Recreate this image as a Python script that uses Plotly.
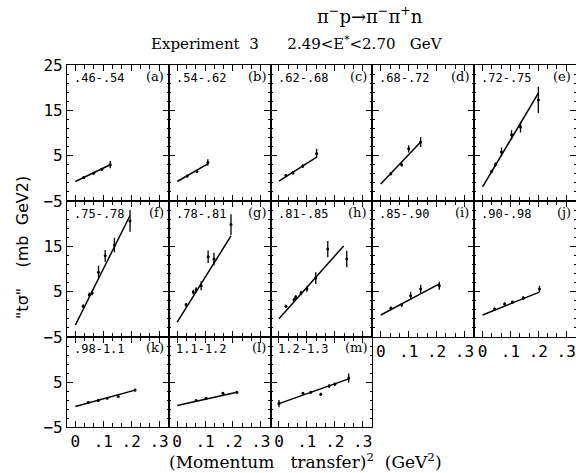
import plotly.graph_objects as go
from plotly.subplots import make_subplots

# ---------------- data ----------------
ranges = [".46-.54", ".54-.62", ".62-.68", ".68-.72", ".72-.75",
          ".75-.78", ".78-.81", ".81-.85", ".85-.90", ".90-.98",
          ".98-1.1", "1.1-1.2", "1.2-1.3"]
tags = ["(a)", "(b)", "(c)", "(d)", "(e)", "(f)", "(g)", "(h)", "(i)", "(j)",
        "(k)", "(l)", "(m)"]

pts_x = [
    [0.03, 0.065, 0.095, 0.125],
    [0.036, 0.071, 0.11],
    [0.025, 0.05, 0.085, 0.135],
    [0.036, 0.075, 0.10, 0.143],
    [0.032, 0.046, 0.068, 0.104, 0.136, 0.20],
    [0.028, 0.05, 0.06, 0.083, 0.107, 0.14, 0.196],
    [0.032, 0.058, 0.068, 0.086, 0.111, 0.132, 0.193],
    [0.025, 0.054, 0.06, 0.079, 0.10, 0.132, 0.175, 0.243],
    [0.036, 0.075, 0.107, 0.143, 0.21],
    [0.043, 0.079, 0.107, 0.146, 0.204],
    [0.046, 0.082, 0.114, 0.154, 0.214],
    [0.068, 0.104, 0.164, 0.214],
    [0.0, 0.086, 0.114, 0.15, 0.18, 0.20, 0.25],
]
pts_y = [
    [0.2, 1.1, 2.0, 3.0],
    [0.5, 1.5, 3.5],
    [0.6, 1.2, 2.7, 5.5],
    [1.0, 3.0, 6.5, 8.0],
    [1.5, 3.0, 5.8, 9.6, 11.3, 17.3],
    [1.8, 4.3, 4.7, 9.3, 12.9, 15.3, 20.6],
    [2.1, 4.9, 5.4, 6.3, 12.7, 12.2, 19.8],
    [1.8, 3.2, 3.8, 4.7, 5.6, 8.0, 14.4, 12.2],
    [1.4, 2.1, 4.1, 5.6, 6.3],
    [1.2, 2.3, 2.7, 3.6, 5.6],
    [0.45, 0.9, 1.4, 1.8, 3.2],
    [0.9, 1.4, 2.5, 2.7],
    [0.2, 2.5, 2.7, 2.3, 4.1, 4.5, 5.9],
]
pts_err = [
    [0.3, 0.3, 0.3, 0.8],
    [0.3, 0.3, 0.7],
    [0.3, 0.3, 0.4, 1.0],
    [0.3, 0.4, 0.8, 1.1],
    [0.4, 0.5, 1.0, 1.0, 1.2, 2.9],
    [0.4, 0.5, 0.5, 1.4, 1.3, 1.6, 2.4],
    [0.4, 0.5, 0.6, 1.0, 1.4, 1.4, 2.3],
    [0.3, 0.4, 0.4, 0.5, 0.6, 1.3, 1.8, 1.8],
    [0.3, 0.4, 0.8, 0.9, 0.9],
    [0.3, 0.3, 0.3, 0.4, 0.7],
    [0.2, 0.2, 0.2, 0.2, 0.3],
    [0.2, 0.2, 0.2, 0.3],
    [0.8, 0.3, 0.3, 0.3, 0.4, 0.4, 1.0],
]
fit_x = [[0, 0.125], [0, 0.11], [0, 0.135], [0, 0.143], [0, 0.20],
         [0, 0.196], [0, 0.193], [0, 0.232], [0, 0.21], [0, 0.204],
         [0, 0.214], [0, 0.214], [0, 0.25]]
fit_y = [[-0.7, 3.0], [-0.7, 3.2], [-0.6, 4.7], [-1.25, 8.0], [-1.9, 18.8],
         [-2.35, 21.8], [-1.7, 17.3], [-1.0, 15.1], [-0.14, 6.7], [-0.14, 4.9],
         [-0.45, 3.2], [-0.2, 2.7], [0.2, 5.7]]

x_tickvals = [0, 0.1, 0.2, 0.3]
x_ticktext = ["0", ".1", ".2", ".3"]
y_ticks_rows = [[-5, 5, 15, 25], [-5, 5, 15], [-5, 5]]
y_range_rows = [[-5, 25], [-5, 25], [-5, 15]]

# ---------------- figure ----------------
fig = make_subplots(rows=3, cols=5, horizontal_spacing=0, vertical_spacing=0,
                    row_heights=[136, 136, 90])

tick_font = dict(family="DejaVu Sans Mono", size=16, color="black")

for i in range(13):
    r, c = i // 5 + 1, i % 5 + 1
    fig.add_trace(go.Scatter(x=fit_x[i], y=fit_y[i], mode="lines",
                             line=dict(color="black", width=1.5),
                             showlegend=False, hoverinfo="skip"), row=r, col=c)
    fig.add_trace(go.Scatter(x=pts_x[i], y=pts_y[i], mode="markers",
                             marker=dict(color="black", size=3),
                             error_y=dict(type="data", array=pts_err[i],
                                          color="black", thickness=1.3, width=0),
                             showlegend=False), row=r, col=c)
    fig.add_annotation(text=ranges[i], x=0.05, y=0.97, xanchor="left", yanchor="top",
                       xref=f"x{i+1 if i else ''} domain", yref=f"y{i+1 if i else ''} domain",
                       showarrow=False,
                       font=dict(family="DejaVu Sans Mono", size=12, color="black"))
    fig.add_annotation(text=tags[i], x=0.97, y=0.985, xanchor="right", yanchor="top",
                       xref=f"x{i+1 if i else ''} domain", yref=f"y{i+1 if i else ''} domain",
                       showarrow=False,
                       font=dict(family="DejaVu Serif", size=13, color="black"))

for r in range(1, 4):
    for c in range(1, 6):
        idx = (r - 1) * 5 + c - 1
        if idx >= 13:
            fig.update_xaxes(visible=False, row=r, col=c)
            fig.update_yaxes(visible=False, row=r, col=c)
            continue
        show_x = (r == 3) or (r == 2 and c >= 4)
        fig.update_xaxes(range=[-0.03, 0.335], tickmode="array",
                         tickvals=x_tickvals, ticktext=x_ticktext,
                         showticklabels=show_x, ticks="inside", ticklen=6,
                         tickwidth=1.2, tickcolor="black",
                         minor=dict(tickmode="linear", tick0=0, dtick=0.1 / 3,
                                    ticks="inside", ticklen=4, tickwidth=1,
                                    tickcolor="black", showgrid=False),
                         showline=True, linecolor="black", linewidth=1.3,
                         mirror="ticks", showgrid=False, zeroline=False,
                         tickfont=tick_font, row=r, col=c)
        fig.update_yaxes(range=y_range_rows[r - 1], tickmode="array",
                         tickvals=y_ticks_rows[r - 1],
                         showticklabels=(c == 1), ticks="inside", ticklen=6,
                         tickwidth=1.2, tickcolor="black",
                         minor=dict(tickmode="linear", tick0=-5, dtick=2,
                                    ticks="inside", ticklen=2, tickwidth=1,
                                    tickcolor="black", showgrid=False),
                         showline=True, linecolor="black", linewidth=1.3,
                         mirror="ticks", showgrid=False, zeroline=False,
                         tickfont=tick_font, row=r, col=c)

fig.add_annotation(text="π<sup>−</sup>p→π<sup>−</sup>π<sup>+</sup>n",
                   xref="paper", yref="paper", x=(370 - 67) / 509, y=(427 - 15) / 362,
                   xanchor="center", yanchor="middle", showarrow=False,
                   font=dict(family="DejaVu Serif", size=18, color="black"))
fig.add_annotation(text="Experiment  3      2.49&lt;E<sup>*</sup>&lt;2.70   GeV",
                   xref="paper", yref="paper", x=(297 - 67) / 509, y=(427 - 43) / 362,
                   xanchor="center", yanchor="middle", showarrow=False,
                   font=dict(family="DejaVu Serif", size=15, color="black"))
fig.add_annotation(text="(Momentum   transfer)<sup>2</sup>  (GeV<sup>2</sup>)",
                   xref="paper", yref="paper", x=(305 - 67) / 509, y=(427 - 461) / 362,
                   xanchor="center", yanchor="middle", showarrow=False,
                   font=dict(family="DejaVu Serif", size=17, color="black"))
fig.add_annotation(text="\"tσ\"    (mb  GeV2)",
                   xref="paper", yref="paper", x=(22 - 67) / 509, y=(427 - 248) / 362,
                   xanchor="center", yanchor="middle", showarrow=False, textangle=-90,
                   font=dict(family="DejaVu Sans", size=16, color="black"))

fig.update_layout(width=576, height=473,
                  margin=dict(l=67, r=0, t=65, b=46),
                  paper_bgcolor="white", plot_bgcolor="white")

fig.write_html("out.html")
